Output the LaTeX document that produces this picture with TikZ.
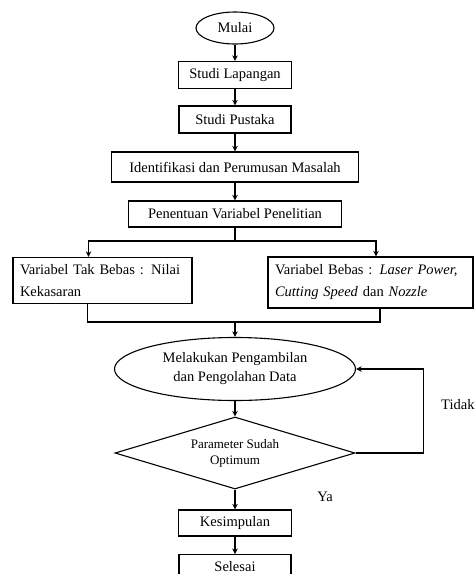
\documentclass[tikz,border=0pt]{standalone}
\usepackage{fontspec}
\setmainfont{Liberation Serif}
\usepackage{tikz}
\usetikzlibrary{positioning,arrows.meta,shapes.geometric,calc}

\begin{document}
\begin{tikzpicture}[x=1pt, y=-1pt,
  every node/.style={font=\fontsize{14.5}{19}\selectfont},
  box/.style={rectangle, draw=black, line width=1.1pt, align=center, inner sep=0pt},
  varbox/.style={rectangle, draw=black, line width=1.1pt, align=left, inner sep=7pt,
                 font=\fontsize{14.5}{22}\selectfont},
  oval/.style={ellipse, draw=black, line width=1.1pt, align=center, inner sep=0pt},
  decide/.style={diamond, draw=black, line width=1.1pt, inner sep=0pt},
  decidetext/.style={align=center, inner sep=0pt, font=\fontsize{13}{16}\selectfont},
  arr/.style={-{Stealth[length=5.5pt, width=5.5pt]}, line width=1.1pt},
  line/.style={line width=1.1pt}
]
  \useasboundingbox (0,0) rectangle (475,574);
  \node[oval, minimum width=78pt, minimum height=32pt] (mulai) at (235,28) {Mulai};
  \node[box, minimum width=113pt, minimum height=27pt] (lapangan) at (235,75) {Studi Lapangan};
  \node[box, minimum width=112pt, minimum height=27pt] (pustaka) at (235,119.5) {Studi Pustaka};
  \node[box, minimum width=247pt, minimum height=30pt] (identifikasi) at (235,167)
        {Identifikasi dan Perumusan Masalah};
  \node[box, minimum width=213pt, minimum height=26pt] (penentuan) at (235,214)
        {Penentuan Variabel Penelitian};
  \node[varbox, minimum width=179pt, minimum height=45pt, text width=165pt] (takbebas) at (102.5,280.5)
        {Variabel Tak Bebas : Nilai\\Kekasaran};
  \node[varbox, minimum width=205pt, minimum height=51pt, text width=191pt] (bebas) at (370.5,282.5)
        {Variabel Bebas : \textit{Laser Power,}\\\textit{Cutting Speed} dan \textit{Nozzle}};
  \node[oval, minimum width=241pt, minimum height=63pt] (ambil) at (235,369)
        {Melakukan Pengambilan\\dan Pengolahan Data};
  \node[decide, minimum width=240pt, minimum height=72pt,
        label={[decidetext]center:Parameter Sudah\\Optimum}] (optimum) at (235,453) {};
  \node[box, minimum width=113pt, minimum height=26pt] (kesimpulan) at (235,523) {Kesimpulan};
  \node[box, anchor=north, minimum width=112pt, minimum height=36pt, text depth=12pt]
        (selesai) at (235,554) {Selesai};
  \node (ya) at (325,497) {Ya};
  \node[anchor=west, inner sep=0pt] (tidak) at (441,405) {Tidak};

  \coordinate (split) at (235,241);
  \coordinate (merge) at (235,322);

  \draw[arr] (mulai) -- (lapangan);
  \draw[arr] (lapangan) -- (pustaka);
  \draw[arr] (pustaka) -- (identifikasi);
  \draw[arr] (identifikasi) -- (penentuan);
  \draw[line] (penentuan) -- (split);
  \draw[arr] (split) -| ([xshift=-14pt]takbebas.north);
  \draw[arr] (split) -| ([xshift=5.5pt]bebas.north);
  \draw[line] ([xshift=-15pt]takbebas.south) |- (merge) -| ([xshift=9.5pt]bebas.south);
  \draw[arr] (merge) -- (ambil);
  \draw[arr] (ambil) -- (optimum);
  \draw[arr] (optimum.east) -- ++(68,0) |- (ambil.east);
  \draw[arr] (optimum) -- (kesimpulan);
  \draw[arr] (kesimpulan) -- (selesai);
\end{tikzpicture}
\end{document}
